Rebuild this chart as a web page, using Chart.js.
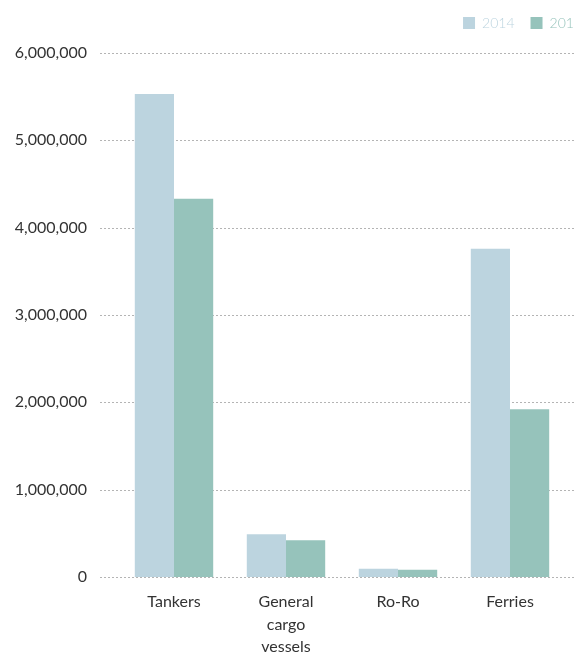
<!DOCTYPE html>
<html>
<head>
<meta charset="utf-8">
<script src="https://cdn.jsdelivr.net/npm/chart.js@4/dist/chart.umd.min.js"></script>
<style>
  html, body { margin: 0; padding: 0; background: #fff; overflow: hidden; }
  #wrap { width: 598px; height: 653px; }
</style>
</head>
<body>
<div id="wrap"><canvas id="chart"></canvas></div>
<script>
// ship types and the yearly totals per type
const categories = ["Tankers", ["General", "cargo", "vessels"], "Ro-Ro", "Ferries"];
const years = ["2014", "2015"];
const values2014 = [5530000, 490000, 95000, 3760000];
const values2015 = [4330000, 420000, 84000, 1920000];
const yTicks = [0, 1000000, 2000000, 3000000, 4000000, 5000000, 6000000];

const colors = ["#bcd4df", "#96c3bb"];

// dotted horizontal lines, running a bit past the plot on both sides
const dottedGrid = {
  id: "dottedGrid",
  beforeDatasetsDraw(chart) {
    const ctx = chart.ctx;
    const y = chart.scales.y;
    ctx.save();
    ctx.strokeStyle = "#b4b4b4";
    ctx.lineWidth = 1;
    ctx.setLineDash([2, 2]);
    yTicks.forEach((v) => {
      const py = Math.round(y.getPixelForValue(v)) + 0.5;
      ctx.beginPath();
      ctx.moveTo(100, py);
      ctx.lineTo(chart.width, py);
      ctx.stroke();
    });
    ctx.restore();
  },
};

// fix the legend strip height so the plot starts where it should
const legendHeight = {
  id: "legendHeight",
  beforeInit(chart) {
    const fit = chart.legend.fit;
    chart.legend.fit = function () {
      fit.bind(chart.legend)();
      this.height = 53;
    };
  },
};

const ctx = document.getElementById("chart").getContext("2d");
const myChart = new Chart(ctx, {
  type: "bar",
  data: {
    labels: categories,
    datasets: [
      {
        label: years[0],
        data: values2014,
        backgroundColor: colors[0],
        borderWidth: 0,
      },
      {
        label: years[1],
        data: values2015,
        backgroundColor: colors[1],
        borderWidth: 0,
      },
    ],
  },
  options: {
    responsive: true,
    maintainAspectRatio: false,
    animation: false,
    layout: { padding: 0 },
    datasets: {
      bar: { categoryPercentage: 0.7, barPercentage: 1 },
    },
    plugins: {
      tooltip: { enabled: false },
      legend: {
        position: "top",
        align: "end",
        labels: {
          boxWidth: 12,
          boxHeight: 12,
          padding: 16,
          font: { family: "Lato", size: 14, weight: 300 },
          generateLabels(chart) {
            const items = Chart.defaults.plugins.legend.labels.generateLabels(chart);
            items.forEach((it) => {
              it.fontColor = colors[it.datasetIndex];
              it.strokeStyle = colors[it.datasetIndex];
              it.lineWidth = 0;
            });
            return items;
          },
        },
      },
    },
    scales: {
      x: {
        grid: { display: false, drawTicks: false },
        border: { display: false },
        ticks: {
          padding: 14,
          color: "#333",
          maxRotation: 0,
          font: { family: "Lato", size: 16, lineHeight: 1.4 },
        },
        afterFit(scale) {
          scale.height = 76;
        },
      },
      y: {
        min: 0,
        max: 6000000,
        grid: { display: false, drawTicks: false },
        border: { display: false },
        afterBuildTicks(scale) {
          scale.ticks = yTicks.map((v) => ({ value: v }));
        },
        ticks: {
          padding: 31,
          color: "#333",
          font: { family: "Lato", size: 16 },
          callback: (v) => v.toLocaleString("en-US"),
        },
        afterFit(scale) {
          scale.width = 118;
        },
      },
      // empty axis on the right, only used to leave room for the legend
      spacer: {
        position: "right",
        grid: { display: false, drawTicks: false },
        border: { display: false },
        ticks: { display: false },
        afterFit(scale) {
          scale.width = 32;
        },
      },
    },
  },
  plugins: [dottedGrid, legendHeight],
});
</script>
</body>
</html>
